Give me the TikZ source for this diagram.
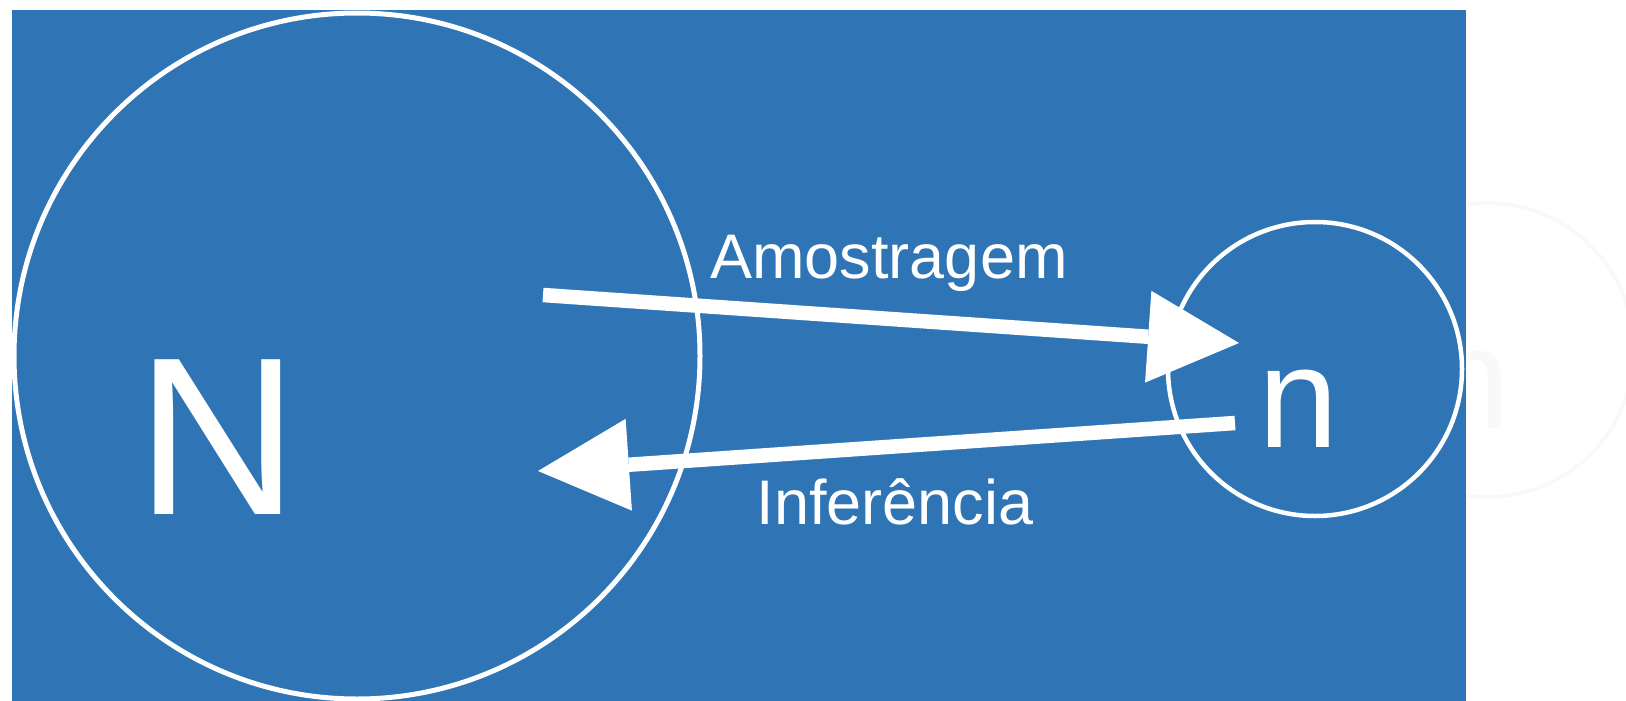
\documentclass[tikz,border=0pt]{standalone}
\usepackage{fontspec}
\setmainfont{Liberation Sans}
\usetikzlibrary{arrows.meta}
\definecolor{bg}{RGB}{47,117,181}
\definecolor{ghost}{RGB}{249,249,249}
\begin{document}
\begin{tikzpicture}[x=1pt,y=-1pt,
  ring/.style={circle, draw=white, inner sep=0pt},
  arr/.style={white, line width=14.5pt, -{Triangle[length=91pt,width=92pt,line width=0pt]}},
  lbl/.style={text=white, inner sep=0pt, anchor=base},
  lblfont/.style={font=\fontsize{63}{63}\selectfont}]
\useasboundingbox (0,0) rectangle (1626,701);
% faint ghost copy on the right
\node[circle, draw=ghost, line width=4pt, inner sep=0pt, minimum size=294pt] (ghostc) at (1487,350) {};
\node[text=ghost, inner sep=0pt, anchor=base, font=\fontsize{144}{144}\selectfont] (ghostn) at (1471,428) {n};
% background
\fill[bg] (12,10) rectangle (1466,701);
% circles
\node[ring, line width=5pt, minimum size=686pt] (pop) at (357,356) {};
\node[ring, line width=4.5pt, minimum size=294pt] (samp) at (1315,369) {};
% letters
\node[lbl, font=\fontsize{225}{225}\selectfont] (N) at (217.5,514) {N};
\node[lbl, font=\fontsize{144}{144}\selectfont] (n) at (1299,447) {n};
% labels
\node[lbl, lblfont] (amos) at (889,278) {Amostragem};
\node[lbl, lblfont] (infe) at (895,524) {Inferência};
% arrow ends
\coordinate (a1) at (543,295);
\coordinate (a2) at (1239,343);
\coordinate (b1) at (1235,423);
\coordinate (b2) at (538,471);
\draw[arr] (a1) -- (a2);
\draw[arr] (b1) -- (b2);
\end{tikzpicture}
\end{document}
